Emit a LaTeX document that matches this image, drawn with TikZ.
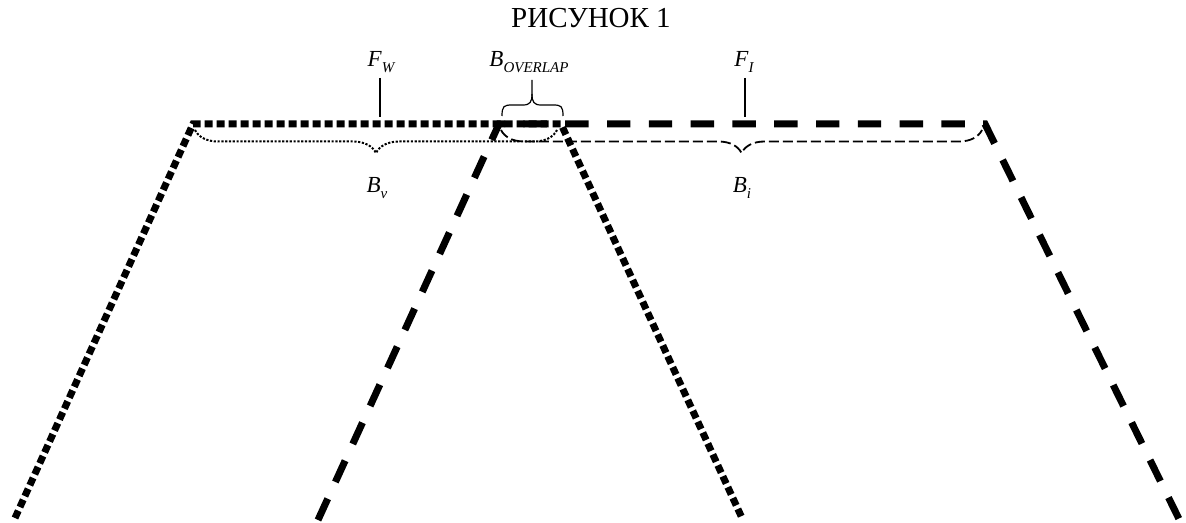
\documentclass[tikz,border=0pt]{standalone}
\usepackage{fontspec}
\setmainfont{Liberation Serif}
\usetikzlibrary{decorations.pathreplacing}
\newcommand{\lsub}[1]{\raisebox{-0.55ex}{\fontsize{7.5}{8}\selectfont\itshape #1}}

\begin{document}
\begin{tikzpicture}[x=0.5pt, y=-0.5pt,
    wline/.style={line width=3.5pt, dash pattern=on 4pt off 2pt},
    iline/.style={line width=3.5pt, dash pattern=on 11.7pt off 9.2pt},
    lbl/.style={font=\fontsize{11.5}{13}\selectfont\itshape, anchor=base, inner sep=0pt},
    tick/.style={line width=0.6pt},
    vbrace/.style={decorate, decoration={brace, mirror, amplitude=11.5pt},
      line width=1pt, dash pattern=on 1.1pt off 0.8pt},
    ibrace/.style={decorate, decoration={brace, mirror, amplitude=11.5pt},
      line width=0.9pt, dash pattern=on 5pt off 2pt}
  ]
    \useasboundingbox (0,0) rectangle (1186,523);

    % Title
    \node[font=\fontsize{14.5}{16}\selectfont, anchor=base, inner sep=0pt] (title) at (591,28) {РИСУНОК 1};

    % Corners of the two bands
    \coordinate (w1) at (15,518);
    \coordinate (w2) at (193,124);
    \coordinate (w3) at (561,124);
    \coordinate (w4) at (742,518);
    \coordinate (i1) at (318,520);
    \coordinate (i2) at (499,124);
    \coordinate (i3) at (985,124);
    \coordinate (i4) at (1179,519);

    % Bands
    \draw[wline] (w1) -- (w2) -- (w3) -- (w4);
    \draw[iline] (i1) -- (i2) -- (i3) -- (i4);

    % Top labels with ticks
    \node[lbl] (fw) at (381,67) {F\lsub{W}};
    \node[lbl] (fi) at (744,67) {F\lsub{I}};
    \node[lbl] (bov) at (529,67) {B\lsub{OVERLAP}};
    \coordinate (fwtop) at (380,78);
    \coordinate (fwbot) at (380,117);
    \coordinate (fitop) at (745,78);
    \coordinate (fibot) at (745,117);
    \draw[tick] (fwtop) -- (fwbot);
    \draw[tick] (fitop) -- (fibot);

    % Overlap brace
    \coordinate (ov1) at (502,116);
    \coordinate (ov2) at (563,116);
    \draw[tick] (ov1) .. controls (502,106) and (504,105) .. (512,105) -- (523,105)
      .. controls (530,105) and (532,102) .. (532,94) -- (532,80);
    \draw[tick] (532,94) .. controls (532,102) and (534,105) .. (541,105) -- (553,105)
      .. controls (561,105) and (563,106) .. (ov2);

    % Lower braces
    \coordinate (bv1) at (195,130);
    \coordinate (bv2) at (557,130);
    \coordinate (bi1) at (501,130);
    \coordinate (bi2) at (982,130);
    \draw[vbrace] (bv1) -- (bv2);
    \draw[ibrace] (bi1) -- (bi2);
    \node[lbl] (bv) at (377,193) {B\lsub{v}};
    \node[lbl] (bi) at (742,193) {B\lsub{i}};
\end{tikzpicture}
\end{document}
